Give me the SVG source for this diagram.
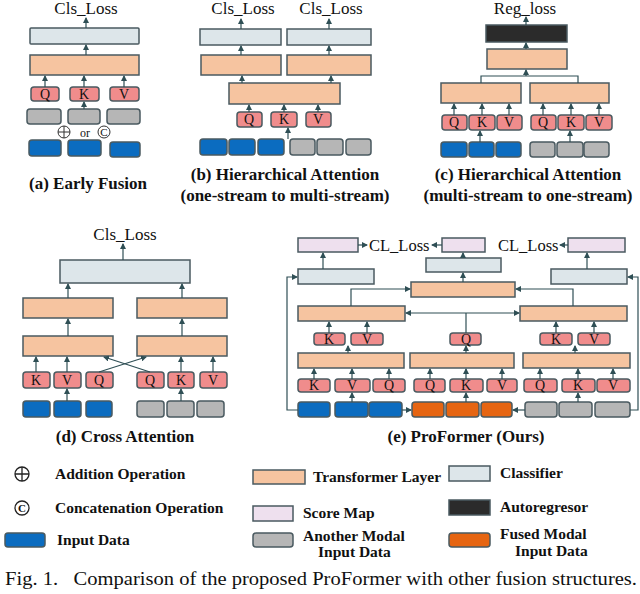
<svg xmlns="http://www.w3.org/2000/svg" width="640" height="594" viewBox="0 0 640 594">
<style>
text{font-family:"Liberation Serif","Times New Roman",Times,serif;fill:#111}
.b{font-weight:bold;font-size:17px;text-anchor:middle}
.l{font-weight:bold;font-size:15.5px}
.t{font-size:17px;text-anchor:middle}
.q{font-size:14px;text-anchor:middle}
rect{stroke:#4a5a60;stroke-width:1.5}
rect.bg{stroke:none;fill:#fff}
.cl{fill:#dde6ea}.tf{fill:#f6c4a0}.qk{fill:#f08c8c}.bl{fill:#0b6cc0}.gr{fill:#b6b6b6}.or{fill:#e66512}.sm{fill:#eee0ee}.dk{fill:#2b2b2b}
.c line,.c path{stroke:#2f4f55;stroke-width:1.2;fill:none}
.a{marker-end:url(#ar)}
</style>
<defs><marker id="ar" viewBox="0 0 6 6" refX="5" refY="3" markerWidth="5" markerHeight="5" orient="auto"><path d="M0,0L6,3L0,6z" fill="#2f4f55"/></marker></defs>
<rect class="bg" width="640" height="594"/>

<g id="a">
<text class="t" x="86" y="14">Cls_Loss</text>
<rect class="cl" x="30" y="28" width="109" height="16" rx="1"/>
<rect class="tf" x="30" y="55" width="109" height="20"/>
<rect class="qk" x="31" y="87" width="28" height="14" rx="3"/><text class="q" x="45" y="99">Q</text>
<rect class="qk" x="70" y="87" width="29" height="14" rx="3"/><text class="q" x="84" y="99">K</text>
<rect class="qk" x="110" y="87" width="29" height="14" rx="3"/><text class="q" x="124" y="99">V</text>
<rect class="gr" x="27" y="109" width="34" height="15" rx="3"/>
<rect class="gr" x="68" y="109" width="32" height="15" rx="3"/>
<rect class="gr" x="107" y="109" width="33" height="15" rx="3"/>
<circle cx="64" cy="132" r="6" fill="#fff" stroke="#333"/><path d="M58,132h12M64,126v12" stroke="#333"/>
<text x="85" y="137" font-size="12" text-anchor="middle">or</text>
<circle cx="104" cy="132" r="6" fill="#fff" stroke="#333"/><text x="104" y="136" font-size="11" text-anchor="middle">C</text>
<rect class="bl" x="29" y="140" width="32" height="16" rx="3"/>
<rect class="bl" x="68" y="140" width="33" height="16" rx="3"/>
<rect class="bl" x="110" y="142" width="30" height="15" rx="3"/>
<text class="b" x="88" y="189">(a) Early Fusion</text>
</g>

<g id="b">
<text class="t" x="243" y="14">Cls_Loss</text><text class="t" x="331" y="14">Cls_Loss</text>
<rect class="cl" x="200" y="29" width="81" height="16"/>
<rect class="cl" x="287" y="29" width="84" height="16"/>
<rect class="tf" x="201" y="55" width="80" height="20"/>
<rect class="tf" x="287" y="55" width="84" height="20"/>
<rect class="tf" x="229" y="83" width="111" height="21"/>
<rect class="qk" x="237" y="112" width="25" height="15" rx="3"/><text class="q" x="249" y="124">Q</text>
<rect class="qk" x="271" y="112" width="26" height="15" rx="3"/><text class="q" x="284" y="124">K</text>
<rect class="qk" x="306" y="112" width="25" height="15" rx="3"/><text class="q" x="318" y="124">V</text>
<rect class="bl" x="200" y="139" width="27" height="16" rx="3"/>
<rect class="bl" x="229" y="139" width="26" height="16" rx="3"/>
<rect class="bl" x="258" y="139" width="26" height="16" rx="3"/>
<rect class="gr" x="290" y="139" width="25" height="16" rx="3"/>
<rect class="gr" x="317" y="139" width="26" height="16" rx="3"/>
<rect class="gr" x="346" y="139" width="25" height="16" rx="3"/>
<text class="b" x="285" y="180">(b) Hierarchical Attention</text>
<text class="b" x="285" y="201">(one-stream to multi-stream)</text>
</g>

<g id="c">
<text class="t" x="525" y="14">Reg_loss</text>
<rect class="dk" x="486" y="25" width="81" height="17"/>
<rect class="tf" x="487" y="49" width="80" height="20"/>
<rect class="tf" x="441" y="83" width="80" height="20"/>
<rect class="tf" x="530" y="83" width="79" height="20"/>
<rect class="qk" x="442" y="115" width="25" height="15" rx="3"/><text class="q" x="454" y="127">Q</text>
<rect class="qk" x="469" y="115" width="26" height="15" rx="3"/><text class="q" x="482" y="127">K</text>
<rect class="qk" x="497" y="115" width="25" height="15" rx="3"/><text class="q" x="509" y="127">V</text>
<rect class="qk" x="531" y="115" width="25" height="15" rx="3"/><text class="q" x="543" y="127">Q</text>
<rect class="qk" x="558" y="115" width="26" height="15" rx="3"/><text class="q" x="571" y="127">K</text>
<rect class="qk" x="586" y="115" width="26" height="15" rx="3"/><text class="q" x="599" y="127">V</text>
<rect class="bl" x="441" y="142" width="26" height="15" rx="3"/>
<rect class="bl" x="469" y="142" width="25" height="15" rx="3"/>
<rect class="bl" x="496" y="142" width="25" height="15" rx="3"/>
<rect class="gr" x="530" y="142" width="25" height="15" rx="3"/>
<rect class="gr" x="557" y="142" width="26" height="15" rx="3"/>
<rect class="gr" x="584" y="142" width="25" height="15" rx="3"/>
<text class="b" x="528" y="180">(c) Hierarchical Attention</text>
<text class="b" x="528" y="201">(multi-stream to one-stream)</text>
</g>

<g id="d">
<text class="t" x="125" y="240">Cls_Loss</text>
<rect class="cl" x="60" y="260" width="130" height="23"/>
<rect class="tf" x="23" y="298" width="90" height="20"/>
<rect class="tf" x="137" y="298" width="90" height="20"/>
<rect class="tf" x="23" y="336" width="90" height="20"/>
<rect class="tf" x="137" y="336" width="90" height="20"/>
<rect class="qk" x="23" y="372" width="27" height="16" rx="3"/><text class="q" x="36" y="385">K</text>
<rect class="qk" x="54" y="372" width="27" height="16" rx="3"/><text class="q" x="67" y="385">V</text>
<rect class="qk" x="86" y="372" width="27" height="16" rx="3"/><text class="q" x="99" y="385">Q</text>
<rect class="qk" x="137" y="372" width="27" height="16" rx="3"/><text class="q" x="150" y="385">Q</text>
<rect class="qk" x="168" y="372" width="26" height="16" rx="3"/><text class="q" x="181" y="385">K</text>
<rect class="qk" x="200" y="372" width="27" height="16" rx="3"/><text class="q" x="213" y="385">V</text>
<rect class="bl" x="23" y="401" width="27" height="16" rx="3"/>
<rect class="bl" x="54" y="401" width="27" height="16" rx="3"/>
<rect class="bl" x="86" y="401" width="26" height="16" rx="3"/>
<rect class="gr" x="137" y="401" width="27" height="16" rx="3"/>
<rect class="gr" x="167" y="401" width="27" height="16" rx="3"/>
<rect class="gr" x="197" y="401" width="27" height="16" rx="3"/>
<text class="b" x="125" y="442">(d) Cross Attention</text>
</g>

<g id="e">
<rect class="sm" x="298" y="238" width="60" height="14"/>
<rect class="sm" x="442" y="238" width="43" height="14"/>
<rect class="sm" x="568" y="238" width="57" height="14"/>
<text x="369" y="251" font-size="16.5">CL_Loss</text>
<text x="498" y="251" font-size="16.5">CL_Loss</text>
<rect class="cl" x="298" y="269" width="76" height="15"/>
<rect class="cl" x="426" y="258" width="75" height="14"/>
<rect class="cl" x="551" y="269" width="76" height="15"/>
<rect class="tf" x="411" y="282" width="104" height="15"/>
<rect class="tf" x="298" y="306" width="107" height="15"/>
<rect class="tf" x="520" y="306" width="107" height="15"/>
<rect class="qk" x="314" y="333" width="31" height="12" rx="3"/><text class="q" x="329" y="344">K</text>
<rect class="qk" x="351" y="333" width="32" height="12" rx="3"/><text class="q" x="367" y="344">V</text>
<rect class="qk" x="450" y="333" width="31" height="12" rx="3"/><text class="q" x="466" y="344">Q</text>
<rect class="qk" x="540" y="333" width="32" height="12" rx="3"/><text class="q" x="556" y="344">K</text>
<rect class="qk" x="578" y="333" width="32" height="12" rx="3"/><text class="q" x="594" y="344">V</text>
<rect class="tf" x="298" y="353" width="106" height="15"/>
<rect class="tf" x="410" y="353" width="104" height="15"/>
<rect class="tf" x="523" y="353" width="107" height="15"/>
<rect class="qk" x="298" y="379" width="32" height="13" rx="3"/><text class="q" x="314" y="390">K</text>
<rect class="qk" x="335" y="379" width="35" height="13" rx="3"/><text class="q" x="352" y="390">V</text>
<rect class="qk" x="373" y="379" width="32" height="13" rx="3"/><text class="q" x="389" y="390">Q</text>
<rect class="qk" x="414" y="379" width="31" height="13" rx="3"/><text class="q" x="430" y="390">Q</text>
<rect class="qk" x="450" y="379" width="33" height="13" rx="3"/><text class="q" x="466" y="390">K</text>
<rect class="qk" x="487" y="379" width="30" height="13" rx="3"/><text class="q" x="502" y="390">V</text>
<rect class="qk" x="524" y="379" width="33" height="13" rx="3"/><text class="q" x="540" y="390">Q</text>
<rect class="qk" x="562" y="379" width="33" height="13" rx="3"/><text class="q" x="578" y="390">K</text>
<rect class="qk" x="597" y="379" width="33" height="13" rx="3"/><text class="q" x="613" y="390">V</text>
<rect class="bl" x="298" y="402" width="32" height="15" rx="3"/>
<rect class="bl" x="335" y="402" width="33" height="15" rx="3"/>
<rect class="bl" x="369" y="402" width="33" height="15" rx="3"/>
<rect class="or" x="412" y="402" width="32" height="15" rx="3"/>
<rect class="or" x="446" y="402" width="33" height="15" rx="3"/>
<rect class="or" x="481" y="402" width="31" height="15" rx="3"/>
<rect class="gr" x="525" y="402" width="32" height="15" rx="3"/>
<rect class="gr" x="559" y="402" width="33" height="15" rx="3"/>
<rect class="gr" x="595" y="402" width="35" height="15" rx="3"/>
<text class="b" x="466" y="442">(e) ProFormer (Ours)</text>
</g>

<g id="connectors" class="c">
<line class="a" x1="86" y1="28" x2="86" y2="18"/><line class="a" x1="86" y1="55" x2="86" y2="45"/>
<line class="a" x1="45" y1="87" x2="45" y2="76"/><line class="a" x1="84" y1="87" x2="84" y2="76"/><line class="a" x1="124" y1="87" x2="124" y2="76"/>
<line class="a" x1="84" y1="109" x2="84" y2="102"/>
<line class="a" x1="241" y1="29" x2="241" y2="19"/><line class="a" x1="329" y1="29" x2="329" y2="19"/>
<line class="a" x1="241" y1="55" x2="241" y2="46"/><line class="a" x1="329" y1="55" x2="329" y2="46"/>
<line class="a" x1="242" y1="83" x2="242" y2="76"/><line class="a" x1="331" y1="83" x2="331" y2="76"/>
<line class="a" x1="249" y1="112" x2="249" y2="105"/><line class="a" x1="284" y1="112" x2="284" y2="105"/><line class="a" x1="318" y1="112" x2="318" y2="105"/>
<line class="a" x1="288" y1="139" x2="288" y2="128"/>
<line class="a" x1="526" y1="25" x2="526" y2="17"/><line class="a" x1="526" y1="49" x2="526" y2="43"/>
<path d="M481,83V76H578V83"/><line class="a" x1="526" y1="76" x2="526" y2="70"/>
<line class="a" x1="454" y1="115" x2="454" y2="104"/><line class="a" x1="482" y1="115" x2="482" y2="104"/><line class="a" x1="509" y1="115" x2="509" y2="104"/>
<line class="a" x1="543" y1="115" x2="543" y2="104"/><line class="a" x1="571" y1="115" x2="571" y2="104"/><line class="a" x1="599" y1="115" x2="599" y2="104"/>
<line class="a" x1="480" y1="142" x2="480" y2="131"/><line class="a" x1="570" y1="142" x2="570" y2="131"/>
<line class="a" x1="123" y1="260" x2="123" y2="244"/>
<line class="a" x1="68" y1="298" x2="68" y2="284"/><line class="a" x1="182" y1="298" x2="182" y2="284"/>
<line class="a" x1="68" y1="336" x2="68" y2="319"/><line class="a" x1="182" y1="336" x2="182" y2="319"/>
<line class="a" x1="36" y1="372" x2="36" y2="357"/><line class="a" x1="67" y1="372" x2="67" y2="357"/>
<line class="a" x1="181" y1="372" x2="181" y2="357"/><line class="a" x1="213" y1="372" x2="213" y2="357"/>
<line class="a" x1="99" y1="372" x2="146" y2="357"/><line class="a" x1="150" y1="372" x2="104" y2="357"/>
<line class="a" x1="67" y1="401" x2="67" y2="389"/><line class="a" x1="181" y1="401" x2="181" y2="389"/>
<line class="a" x1="358" y1="245" x2="367" y2="245"/><line class="a" x1="442" y1="245" x2="432" y2="245"/><line class="a" x1="568" y1="245" x2="560" y2="245"/>
<line class="a" x1="323" y1="269" x2="323" y2="253"/><line class="a" x1="463" y1="258" x2="463" y2="253"/><line class="a" x1="587" y1="269" x2="587" y2="253"/>
<line class="a" x1="463" y1="282" x2="463" y2="273"/>
<path class="a" d="M351,306V289H410"/><path class="a" d="M573,306V289H516"/>
<path d="M466,333V313"/><line class="a" x1="466" y1="313" x2="406" y2="313"/><line class="a" x1="466" y1="313" x2="519" y2="313"/>
<line class="a" x1="329" y1="333" x2="329" y2="322"/><line class="a" x1="367" y1="333" x2="367" y2="322"/>
<line class="a" x1="556" y1="333" x2="556" y2="322"/><line class="a" x1="594" y1="333" x2="594" y2="322"/>
<line class="a" x1="348" y1="353" x2="348" y2="346"/><line class="a" x1="466" y1="353" x2="466" y2="346"/><line class="a" x1="575" y1="353" x2="575" y2="346"/>
<line class="a" x1="314" y1="379" x2="314" y2="369"/><line class="a" x1="352" y1="379" x2="352" y2="369"/><line class="a" x1="389" y1="379" x2="389" y2="369"/>
<line class="a" x1="430" y1="379" x2="430" y2="369"/><line class="a" x1="466" y1="379" x2="466" y2="369"/><line class="a" x1="502" y1="379" x2="502" y2="369"/>
<line class="a" x1="540" y1="379" x2="540" y2="369"/><line class="a" x1="578" y1="379" x2="578" y2="369"/><line class="a" x1="613" y1="379" x2="613" y2="369"/>
<line class="a" x1="352" y1="402" x2="352" y2="393"/><line class="a" x1="466" y1="402" x2="466" y2="393"/><line class="a" x1="578" y1="402" x2="578" y2="393"/>
<line class="a" x1="402" y1="410" x2="411" y2="410"/><line class="a" x1="525" y1="410" x2="513" y2="410"/>
<path class="a" d="M298,410H287V277H297"/><path class="a" d="M630,410H638V277H628"/>
</g>

<g id="legend">
<circle cx="22" cy="474" r="7" fill="#fff" stroke="#222" stroke-width="1.3"/><path d="M15,474h14M22,467v14" stroke="#222" stroke-width="1.3"/>
<text class="l" x="55" y="479">Addition Operation</text>
<circle cx="22" cy="508" r="7" fill="#fff" stroke="#222" stroke-width="1.3"/><text x="22" y="512" font-size="11" font-weight="bold" text-anchor="middle">C</text>
<text class="l" x="55" y="513">Concatenation Operation</text>
<rect class="bl" x="5" y="533" width="40" height="14" rx="3"/><text class="l" x="57" y="545">Input Data</text>
<rect class="tf" x="253" y="470" width="52" height="14"/><text class="l" x="313" y="482">Transformer Layer</text>
<rect class="sm" x="253" y="506" width="40" height="15"/><text class="l" x="303" y="518">Score Map</text>
<rect class="gr" x="253" y="533" width="40" height="14" rx="3"/><text class="l" x="303" y="541">Another Modal</text><text class="l" x="318" y="557">Input Data</text>
<rect class="cl" x="449" y="466" width="41" height="15"/><text class="l" x="500" y="478">Classifier</text>
<rect class="dk" x="449" y="500" width="41" height="15"/><text class="l" x="500" y="512">Autoregresor</text>
<rect class="or" x="449" y="533" width="41" height="14" rx="3"/><text class="l" x="500" y="539">Fused Modal</text><text class="l" x="515" y="556">Input Data</text>
<text x="5" y="585" font-size="19" xml:space="preserve" textLength="632" lengthAdjust="spacingAndGlyphs">Fig. 1.   Comparison of the proposed ProFormer with other fusion structures.</text>
</g>
</svg>
